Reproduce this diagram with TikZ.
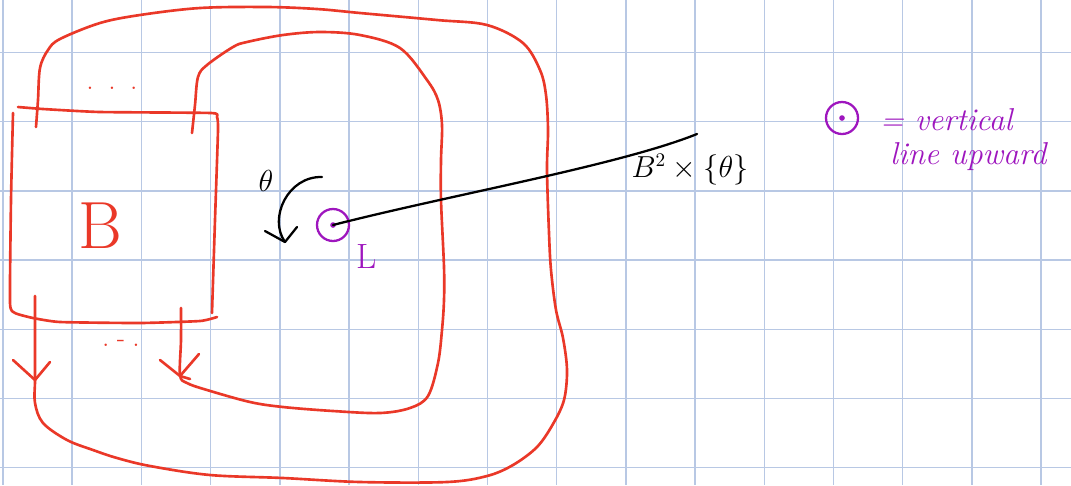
\documentclass[tikz,border=0pt]{standalone}
\usepackage{tikz}
\usetikzlibrary{positioning}
\definecolor{gridblue}{RGB}{184,200,228}
\definecolor{inkred}{RGB}{234,56,40}
\definecolor{inkpurple}{RGB}{158,22,190}
\begin{document}
\begin{tikzpicture}[x=0.02cm,y=-0.02cm,
  gridline/.style={draw=gridblue,line width=0.8pt},
  redink/.style={draw=inkred,line width=1.5pt,line cap=round,line join=round},
  blackink/.style={draw=black,line width=1.3pt,line cap=round,line join=round},
  purpleink/.style={draw=inkpurple,line width=1.3pt},
  upmark/.style={circle,purpleink,minimum size=0.64cm,inner sep=0pt},
  hand/.style={inner sep=1pt}]
\useasboundingbox (0,0) rectangle (1071,485);
\fill[white] (0,0) rectangle (1071,485);
% squared paper
\draw[gridline] (3,0) -- (3,485);
\draw[gridline] (72.2,0) -- (72.2,485);
\draw[gridline] (141.4,0) -- (141.4,485);
\draw[gridline] (210.6,0) -- (210.6,485);
\draw[gridline] (279.8,0) -- (279.8,485);
\draw[gridline] (349,0) -- (349,485);
\draw[gridline] (418.2,0) -- (418.2,485);
\draw[gridline] (487.4,0) -- (487.4,485);
\draw[gridline] (556.6,0) -- (556.6,485);
\draw[gridline] (625.8,0) -- (625.8,485);
\draw[gridline] (695,0) -- (695,485);
\draw[gridline] (764.2,0) -- (764.2,485);
\draw[gridline] (833.4,0) -- (833.4,485);
\draw[gridline] (902.6,0) -- (902.6,485);
\draw[gridline] (971.8,0) -- (971.8,485);
\draw[gridline] (1041,0) -- (1041,485);
\draw[gridline] (0,52.5) -- (1071,52.5);
\draw[gridline] (0,121.7) -- (1071,121.7);
\draw[gridline] (0,190.9) -- (1071,190.9);
\draw[gridline] (0,260.1) -- (1071,260.1);
\draw[gridline] (0,329.3) -- (1071,329.3);
\draw[gridline] (0,398.5) -- (1071,398.5);
\draw[gridline] (0,467.7) -- (1071,467.7);

% the box
\draw[redink] plot[smooth,tension=0.3] coordinates {(18,107) (43,109) (100,112) (211,113) (217,117) (218,130) (215,220) (212,313)};
\draw[redink] plot[smooth,tension=0.3] coordinates {(13,113) (11,200) (10,303) (15,313) (33,318) (60,322) (140,323) (200,321) (217,317)};
\node[hand,text=inkred,font=\fontsize{38}{40}\selectfont] (ball) at (100,226) {B};
\node[hand,text=inkred,font=\Large] (topdots) at (112,88) {.\hspace{0.3cm}.\hspace{0.3cm}.};
\node[hand,text=inkred,font=\Large] (botdots) at (121,343) {.\hspace{0.15cm}-\hspace{0.15cm}.};

% outer strand
\draw[redink] plot[smooth,tension=0.55] coordinates {(35,296) (35,340) (35,380) (35,403) (43,423) (67,440) (93,450) (117,458) (150,466) (210,475) (283,478) (360,482) (447,482) (487,476) (513,465) (537,447) (553,424) (564,400) (567,370) (563,338) (556,310) (551,270) (549,233) (547,170) (548,130) (546,95) (540,70) (523,43) (487,25) (437,20) (360,13) (317,9) (267,7) (200,8) (140,15) (100,23) (60,39) (48,50) (40,68) (38,100) (36,127)};
\draw[redink] (13,360) -- (35,380) -- (50,362);

% inner strand
\draw[redink] plot[smooth,tension=0.55] coordinates {(192,133) (195,105) (198,77) (207,65) (233,47) (247,42) (283,35) (320,32) (360,35) (400,48) (427,80) (438,100) (442,125) (441,160) (441,200) (444,267) (444,300) (442,330) (438,363) (428,396) (410,408) (380,413) (333,411) (283,407) (250,402) (207,390) (187,383) (180,375) (181,340) (181,308)};
\draw[redink] (160,360) -- (180,376) -- (199,354);
\draw[redink] (180,376) -- (190,379);

% the line L and its angle
\node[upmark] (pole) at (333,225) {};
\fill[inkpurple] (pole.center) circle (1.6pt);
\node[hand,text=inkpurple,font=\fontsize{20}{22}\selectfont,below right=0.1cm and 0.18cm of pole] (lname) {L};
\coordinate (lineend) at (697,134);
\draw[blackink] (pole.center) .. controls (450,195) and (620,165) .. (lineend);
\node[hand,font=\fontsize{16}{18}\selectfont] (fibre) at (690,170) {$B^2\times\{\theta\}$};
\coordinate (turnstart) at (322,177);
\coordinate (turnend) at (285,242);
\draw[blackink] (turnstart) .. controls (288,176) and (268,218) .. (turnend);
\draw[blackink] (265,231) -- (turnend) -- (297,227);
\node[hand,font=\fontsize{19}{21}\selectfont] (angle) at (266,181) {$\theta$};

% key
\node[upmark] (key) at (842,118) {};
\fill[inkpurple] (key.center) circle (1.6pt);
\node[hand,text=inkpurple,font=\itshape\fontsize{18}{20}\selectfont,anchor=base west] (keyline1) at (878,130) {= vertical};
\node[hand,text=inkpurple,font=\itshape\fontsize{18}{20}\selectfont,anchor=base west] (keyline2) at (888,164) {line upward};

\end{tikzpicture}
\end{document}
